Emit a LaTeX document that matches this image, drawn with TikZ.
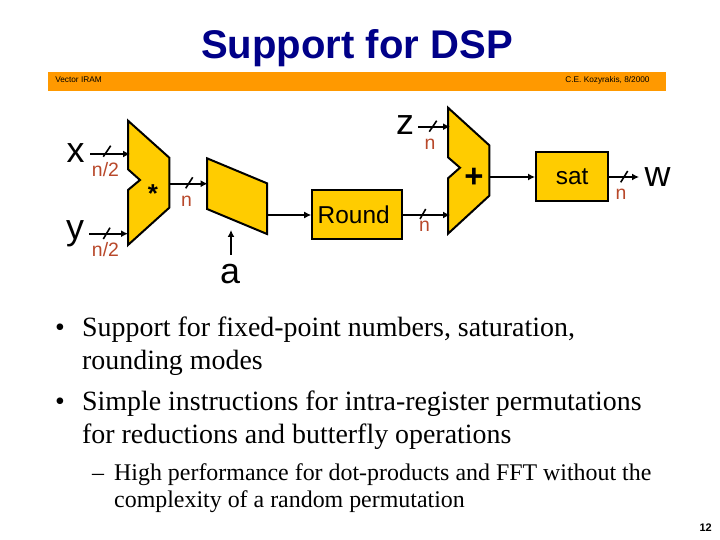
\documentclass[tikz,border=0pt]{standalone}
\usepackage{fontspec}
\usetikzlibrary{arrows.meta}
\setmainfont{Liberation Serif}
\setsansfont{Liberation Sans}
\definecolor{gold}{HTML}{FFCC00}
\definecolor{barorange}{HTML}{FF9900}
\definecolor{navy}{HTML}{000088}
\definecolor{wirelabel}{HTML}{B8482A}
\begin{document}
\begin{tikzpicture}[x=1bp,y=-1bp,
  unit/.style={draw=black,line width=2bp,fill=gold,line join=miter},
  boxunit/.style={draw=black,line width=2bp,fill=gold,inner sep=0pt,font=\sffamily\fontsize{24.5}{28}\selectfont},
  wire/.style={draw=black,line width=1.8bp,-{Latex[length=7bp,width=7bp]}},
  tick/.style={draw=black,line width=1.6bp},
  var/.style={font=\sffamily\fontsize{36}{38}\selectfont,inner sep=0pt,anchor=base},
  wlabel/.style={font=\sffamily\fontsize{19.5}{22}\selectfont,text=wirelabel,inner sep=0pt,anchor=base},
  bodyone/.style={font=\rmfamily\fontsize{28}{30}\selectfont,inner sep=0pt,anchor=base west},
  bodytwo/.style={font=\rmfamily\fontsize{24}{26}\selectfont,inner sep=0pt,anchor=base west},
  small/.style={font=\sffamily\fontsize{8.3}{9}\selectfont,inner sep=0pt,anchor=base}]
\useasboundingbox (0,0) rectangle (720,540);
\node[font=\sffamily\bfseries\fontsize{40.2}{42}\selectfont,text=navy,inner sep=0pt,anchor=base] (title) at (357,59) {Support for DSP};
\fill[barorange] (48,72) rectangle (665.7,90.7);
\node[small] (lefttag) at (78.5,83) {Vector IRAM};
\node[small] (righttag) at (607.5,83) {C.E. Kozyrakis, 8/2000};
% units
\draw[unit] (128,120.7) -- (169.3,157.7) -- (169.3,207.7) -- (128,245) -- (128,190) -- (140,180) -- (128,169.3) -- cycle;
\draw[unit] (207,158.3) -- (267,183.3) -- (267,234) -- (207,209) -- cycle;
\draw[unit] (448,107.7) -- (489.3,145.3) -- (489.3,195.7) -- (448,233.7) -- (448,178.3) -- (460,167.7) -- (448,157.3) -- cycle;
\node[boxunit,minimum width=90bp,minimum height=49bp] (round) at (357.2,215) {\kern-7bp Round};
\node[boxunit,minimum width=72.3bp,minimum height=49bp] (sat) at (572.2,177) {sat};
\node[font=\sffamily\bfseries\fontsize{26}{28}\selectfont,inner sep=0pt] (mulsign) at (153,194) {*};
\node[font=\sffamily\bfseries\fontsize{33}{34}\selectfont,inner sep=0pt] (addsign) at (474,178) {+};
% ports
\coordinate (mulxin) at (130,154);
\coordinate (mulyin) at (128,233.7);
\coordinate (mulout) at (170,183.7);
\coordinate (shin) at (207.7,183.7);
\coordinate (shout) at (266,215);
\coordinate (shctl) at (231,230);
\coordinate (addzin) at (450,126.7);
\coordinate (addrin) at (450,215);
\coordinate (addout) at (490,177);
% labels
\node[var] (x) at (75.5,163) {x};
\node[var] (y) at (75,240) {y};
\node[var] (z) at (405,135) {z};
\node[var] (w) at (657.5,187) {w};
\node[var] (a) at (230,284) {a};
\coordinate (xs) at (90,154);
\coordinate (ys) at (89,233.7);
\coordinate (zs) at (418.3,126.7);
\coordinate (as) at (231,255);
\coordinate (wend) at (639,177);
% connectors
\draw[wire] (xs) -- (mulxin);
\draw[wire] (ys) -- (mulyin);
\draw[wire] (mulout) -- (shin);
\draw[wire] (as) -- (shctl);
\draw[wire] (shout) -- (round.west);
\draw[wire] (round.east) -- (addrin);
\draw[wire] (zs) -- (addzin);
\draw[wire] (addout) -- (sat.west);
\draw[wire] (sat.east) -- (wend);
% ticks
\draw[tick] (103.3,156.7) -- (110.7,145.7);
\draw[tick] (103.3,239) -- (110,227.7);
\draw[tick] (185.7,188.3) -- (192.7,177.3);
\draw[tick] (420,219) -- (425.7,209);
\draw[tick] (429.3,131.7) -- (436.7,120.7);
\draw[tick] (620.7,182.3) -- (627.7,171);
\node[wlabel] (lx) at (105.5,177) {n/2};
\node[wlabel] (ly) at (105.5,257) {n/2};
\node[wlabel] (lm) at (186.5,207) {n};
\node[wlabel] (lr) at (424.5,232) {n};
\node[wlabel] (lz) at (430,150) {n};
\node[wlabel] (lw) at (621,200) {n};
% text
\node[bodyone] (bu1) at (55,336) {•};
\node[bodyone] (b1) at (82,336) {Support for fixed-point numbers, saturation,};
\node[bodyone] (b1b) at (82,369) {rounding modes};
\node[bodyone] (bu2) at (55,410) {•};
\node[bodyone] (b2) at (82,410) {Simple instructions for intra-register permutations};
\node[bodyone] (b2b) at (82,443) {for reductions and butterfly operations};
\node[bodytwo] (b3d) at (92,480) {–};
\node[bodytwo] (b3) at (114,480) {High performance for dot-products and FFT without the};
\node[bodytwo] (b3b) at (114,507) {complexity of a random permutation};
\node[font=\sffamily\bfseries\fontsize{11}{12}\selectfont,inner sep=0pt,anchor=base east] (page) at (712,531) {12};
\end{tikzpicture}
\end{document}
